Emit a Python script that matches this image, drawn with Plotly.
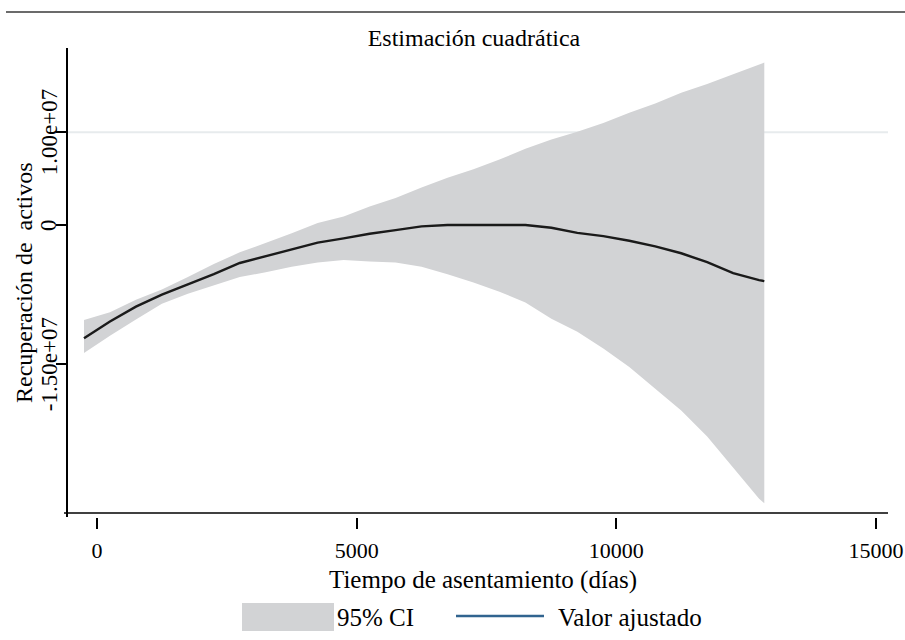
import plotly.graph_objects as go

# tiempo de asentamiento (dias)
dias = [-250, 250, 750, 1250, 1750, 2250, 2750, 3250, 3750, 4250, 4750, 5250, 5750,
        6250, 6750, 7250, 7750, 8250, 8750, 9250, 9750, 10250, 10750, 11250, 11750,
        12250, 12750, 12850]
# valor ajustado (millones)
ajustado = [-12.2, -10.4, -8.8, -7.5, -6.4, -5.3, -4.1, -3.35, -2.6, -1.9, -1.45, -0.95,
            -0.55, -0.15, 0.0, 0.0, 0.0, 0.0, -0.3, -0.85, -1.2, -1.7, -2.3, -3.05,
            -4.0, -5.2, -5.95, -6.05]
# intervalo de confianza 95% (millones)
ic_sup = [-10.25, -9.4, -8.05, -6.95, -5.6, -4.2, -2.95, -1.95, -0.9, 0.2, 0.9, 2.0, 2.9,
          4.05, 5.1, 6.0, 7.05, 8.2, 9.2, 10.05, 11.0, 12.1, 13.1, 14.25, 15.2, 16.25,
          17.3, 17.5]
ic_inf = [-13.8, -11.95, -10.2, -8.5, -7.4, -6.5, -5.6, -5.1, -4.5, -4.05, -3.77, -3.95,
          -4.05, -4.5, -5.3, -6.2, -7.2, -8.35, -10.1, -11.5, -13.3, -15.3, -17.6, -20.0,
          -22.8, -26.1, -29.5, -30.0]

yticks = [-15e6, 0, 10e6]
ytick_text = ["-1.50e+07", "0", "1.00e+07"]
xticks = [0, 5000, 10000, 15000]
xtick_text = ["0", "5000", "10000", "15000"]

FONT = "Liberation Serif"
GRIS = "#d2d3d5"

W, H = 905, 640
L, R, T, B = 68, 888, 48, 517


def px(x):
    return (x - L) / (R - L)


def py(y):
    return (B - y) / (B - T)


fig = go.Figure()
fig.add_trace(go.Scatter(x=dias, y=[v * 1e6 for v in ic_inf], mode="lines",
                         line=dict(width=0, color=GRIS), showlegend=False,
                         hoverinfo="skip"))
fig.add_trace(go.Scatter(x=dias, y=[v * 1e6 for v in ic_sup], mode="lines",
                         line=dict(width=0, color=GRIS), fill="tonexty",
                         fillcolor=GRIS, name="95% CI", showlegend=False))
fig.add_trace(go.Scatter(x=dias, y=[v * 1e6 for v in ajustado], mode="lines",
                         line=dict(width=2.4, color="#1a1a1a"),
                         name="Valor ajustado", showlegend=False))

shapes = [
    # linea de referencia en 1.00e+07
    dict(type="line", xref="paper", yref="y", x0=0, x1=1, y0=10e6, y1=10e6,
         line=dict(color="#e7ebed", width=2), layer="below"),
    # eje x (separado de las marcas)
    dict(type="line", xref="paper", yref="paper", x0=px(64), x1=1, y0=py(513), y1=py(513),
         line=dict(color="#000000", width=1.5)),
    # regla superior de la pagina
    dict(type="line", xref="paper", yref="paper", x0=px(6), x1=px(905), y0=py(12), y1=py(12),
         line=dict(color="#3a3a3a", width=1.5)),
    # leyenda
    dict(type="rect", xref="paper", yref="paper", x0=px(242), x1=px(334),
         y0=py(631), y1=py(603), fillcolor=GRIS, line=dict(width=0)),
    dict(type="line", xref="paper", yref="paper", x0=px(456), x1=px(544),
         y0=py(616), y1=py(616), line=dict(color="#31648f", width=2.5)),
]

annotations = [
    dict(text="Tiempo de asentamiento (días)", xref="paper", yref="paper",
         x=px(483), y=py(580), xanchor="center", yanchor="middle", showarrow=False,
         font=dict(family=FONT, size=25, color="black")),
    dict(text="Recuperación de\u00a0 activos", xref="paper", yref="paper",
         x=px(24), y=py(283), xanchor="center", yanchor="middle", showarrow=False,
         textangle=-90, font=dict(family=FONT, size=24, color="black")),
    dict(text="95% CI", xref="paper", yref="paper", x=px(335), y=py(617),
         xanchor="left", yanchor="middle", showarrow=False,
         font=dict(family=FONT, size=25, color="black")),
    dict(text="Valor ajustado", xref="paper", yref="paper", x=px(556), y=py(617),
         xanchor="left", yanchor="middle", showarrow=False,
         font=dict(family=FONT, size=25, color="black")),
]
# etiquetas del eje y, giradas
for v, t in zip(yticks, ytick_text):
    annotations.append(dict(text=t, xref="paper", yref="y", x=px(49), y=v,
                            xanchor="center", yanchor="middle", showarrow=False,
                            textangle=-90,
                            font=dict(family=FONT, size=23, color="black")))

fig.update_layout(
    width=W, height=H,
    margin=dict(l=L, r=W - R, t=T, b=H - B, autoexpand=False),
    paper_bgcolor="white", plot_bgcolor="white",
    font=dict(family=FONT, size=22, color="black"),
    title=dict(text="Estimación cuadrática", x=px(474), xref="paper", xanchor="center",
               y=1 - 38 / H, yref="container", yanchor="middle",
               font=dict(family=FONT, size=24, color="black")),
    shapes=shapes,
    annotations=annotations,
    showlegend=False,
)
fig.update_xaxes(range=[-558, 15232], tickvals=xticks, ticktext=xtick_text,
                 ticks="outside", ticklen=11, automargin=False,
                 tickwidth=1.5, tickcolor="black", showgrid=False, zeroline=False,
                 showline=False, ticklabelstandoff=3,
                 tickfont=dict(family=FONT, size=22, color="black"))
fig.update_yaxes(range=[-31.47e6, 19.07e6], tickvals=yticks, showticklabels=False,
                 ticks="outside", ticklen=10, tickwidth=1.5,
                 automargin=False,
                 tickcolor="black", showgrid=False, zeroline=False, showline=True,
                 linecolor="black", linewidth=1.5)

fig.write_html("out.html", config={"displayModeBar": False},
               post_script="document.body.style.margin = '0';")
